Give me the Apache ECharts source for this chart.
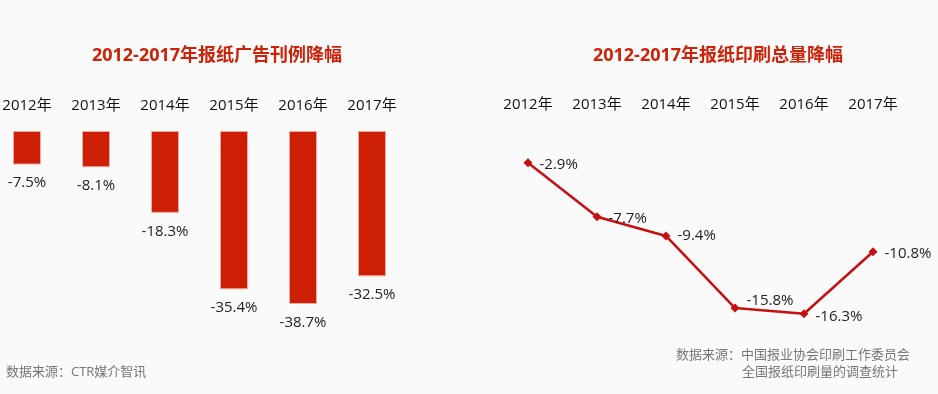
<!DOCTYPE html>
<html><head><meta charset="utf-8">
<script src="https://cdn.jsdelivr.net/npm/echarts@6/dist/echarts.min.js"></script>
<style>html,body{margin:0;padding:0;background:#fafafa}#c{width:938px;height:394px}</style>
</head><body><div id="c"></div>
<script>
const years = ['2012年','2013年','2014年','2015年','2016年','2017年'];
const adDecline = [-7.5, -8.1, -18.3, -35.4, -38.7, -32.5];
const printDecline = [-2.9, -7.7, -9.4, -15.8, -16.3, -10.8];
const titleLeft = '2012-2017年报纸广告刊例降幅';
const titleRight = '2012-2017年报纸印刷总量降幅';
const sourceLeft = '数据来源：CTR媒介智讯';
const sourceRight1 = '数据来源：中国报业协会印刷工作委员会';
const sourceRight2 = '全国报纸印刷量的调查统计';

const FONT = '"Open Sans","Noto Sans CJK SC",sans-serif';
const chart = echarts.init(document.getElementById('c'));
const lineLabelOffsets = [[0,2],[0,2],[0,0],[0,-7],[0,3],[0,2]];
chart.setOption({
  backgroundColor: '#fafafa',
  animation: false,
  textStyle: {fontFamily: FONT},
  title: [
    {text: titleLeft, left: 212, top: 42, textAlign: 'center',
     textStyle: {color: '#CC2208', fontSize: 18, fontWeight: 'bold', fontFamily: FONT}},
    {text: titleRight, left: 713, top: 42, textAlign: 'center',
     textStyle: {color: '#CC2208', fontSize: 18, fontWeight: 'bold', fontFamily: FONT}}
  ],
  grid: [
    {left: -7.5, top: 131, width: 414, height: 178.8, outerBoundsMode: 'none', containLabel: false},
    {left: 493.5, top: 130, width: 414, height: 225.4, outerBoundsMode: 'none', containLabel: false}
  ],
  xAxis: [0,1].map(i => ({
    gridIndex: i, type: 'category', data: years, position: 'top',
    axisLine: {show: false}, axisTick: {show: false},
    axisLabel: {color: '#111', fontSize: 15, margin: 18, fontFamily: FONT}
  })),
  yAxis: [
    {gridIndex: 0, type: 'value', min: -40, max: 0, show: false},
    {gridIndex: 1, type: 'value', min: -20, max: 0, show: false}
  ],
  series: [
    {type: 'bar', xAxisIndex: 0, yAxisIndex: 0, data: adDecline, barWidth: 28,
     itemStyle: {color: '#CC1F05', borderColor: '#F0A89C', borderWidth: 1},
     label: {show: true, position: 'bottom', distance: 11, color: '#222', fontSize: 15,
             fontFamily: FONT, formatter: p => p.value + '%'}},
    {type: 'line', xAxisIndex: 1, yAxisIndex: 1,
     data: printDecline.map((v, i) => ({value: v, label: {offset: lineLabelOffsets[i]}})),
     symbol: 'diamond', symbolSize: 9,
     lineStyle: {color: '#C41010', width: 2.5},
     itemStyle: {color: '#C41010'},
     label: {show: true, position: 'right', distance: 7, color: '#222', fontSize: 15,
             fontFamily: FONT, formatter: p => p.value + '%'}}
  ],
  graphic: [
    {type: 'text', left: 6, top: 366, style: {text: sourceLeft, fill: '#777', fontSize: 13, fontFamily: FONT}},
    {type: 'text', left: 676, top: 349, style: {text: sourceRight1, fill: '#777', fontSize: 13, fontFamily: FONT}},
    {type: 'text', left: 742, top: 366, style: {text: sourceRight2, fill: '#777', fontSize: 13, fontFamily: FONT}}
  ]
});
</script></body></html>
